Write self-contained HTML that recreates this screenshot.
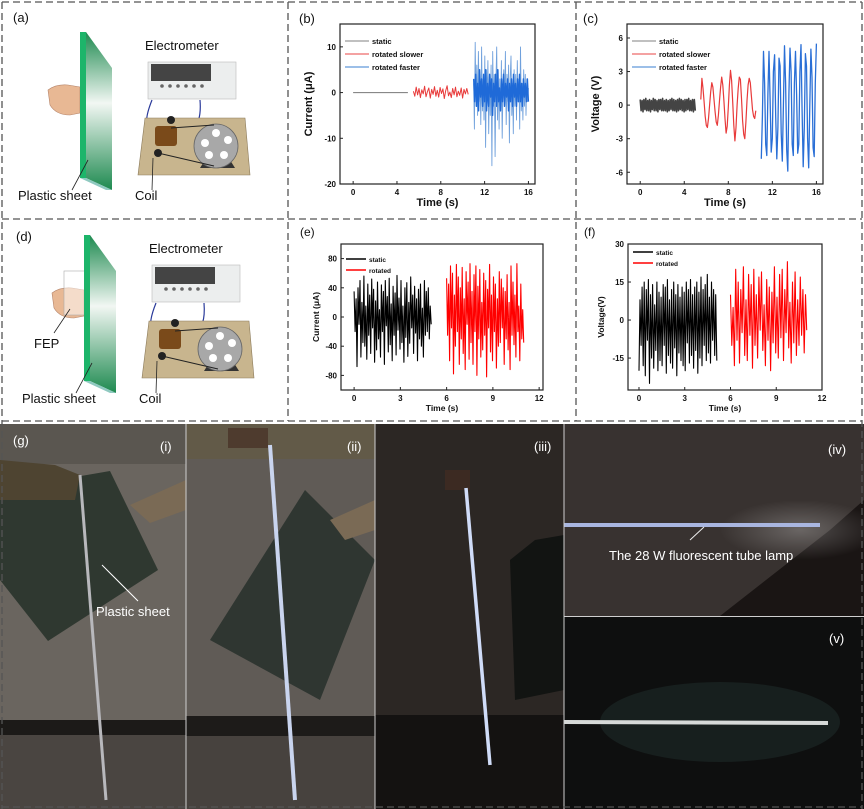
<!DOCTYPE html>
<html><head><meta charset="utf-8">
<style>
html,body{margin:0;padding:0;background:#fff;}
svg{display:block;font-family:"Liberation Sans",Arial,sans-serif;}
.tk{font-size:8px;font-weight:bold;fill:#111;}
.ax{font-size:10.5px;font-weight:bold;fill:#111;}
.lg{font-size:8.5px;font-weight:bold;fill:#111;}
.pl{font-size:13px;fill:#111;}
</style></head>
<body>
<svg id="fig" width="864" height="809" viewBox="0 0 864 809" xmlns="http://www.w3.org/2000/svg">
</svg>
<script>
// ---------- data ----------
const bStatic = [0,0,0,0,0,0];
const bSlow = [0.3,-0.8,1.2,-0.5,0.9,-1.1,0.6,-0.3,1.4,-0.9,0.2,1.0,-1.2,0.7,-0.4,1.3,-0.8,0.5,-1.0,1.1,-0.2,0.8,-1.3,0.4,1.5,-0.7,0.1,-1.1,0.9,-0.5,1.2,-0.9,0.3,-0.6,1.0,-1.2,0.7,-0.3,0.9,-0.4];
const bFast = [2,-8,11,-3,6,-5,9,-2,4,-7,10,-4,3,-6,8,-12,5,-1,7,-9,3,-5,6,-16,9,-3,4,-14,2,10,-6,5,-8,3,-4,7,-10,2,5,-3,9,-7,4,-2,6,-11,3,8,-5,2,-9,5,-3,4,-6,7,-2,3,-8,10,-4,2,-6,5,-3,4,-5,3,-2,1];
const bFastCore = [3,-2,4,-3,2,-4,5,-1,3,-3,4,-2,5,-4,2,-3,4,-1,3,-5,2,-2,4,-3,5,-2,1,-4,3,-2,4,-3,2,-1,3,-4,2,-2,3,-3,4,-1,2,-3,3,-2,4,-2,2,-3,3,-1,2,-2,3,-2];
const bRange = {static:[0,5], slow:[5.5,10.5], fast:[11,16]};
const bYTicks = [10,0,-10,-20];
const bXTicks = [0,4,8,12,16];

const cStatic = [0.5,-0.5,0.4,-0.6,0.5,-0.4,0.6,-0.5,0.4,-0.5,0.5,-0.6,0.4,-0.4,0.6,-0.5,0.5,-0.5,0.4,-0.6,0.5,-0.4,0.5,-0.5,0.6,-0.5,0.4,-0.5,0.5,-0.6,0.4,-0.5,0.5,-0.4,0.6,-0.5,0.5,-0.5,0.4,-0.6,0.5,-0.5,0.6,-0.4,0.5,-0.5,0.4,-0.6,0.5,-0.5,0.5,-0.4,0.6,-0.5,0.4,-0.5,0.5,-0.6,0.5,-0.5];
const cSlow = [0.5,2.4,1.5,0.3,-1.0,-1.8,-2.0,-1.2,0.0,1.2,2.0,1.6,0.5,-0.6,-1.5,-1.8,-0.9,0.4,1.6,2.5,1.8,0.4,-1.2,-2.5,-1.9,-0.2,1.8,3.1,2.2,0.3,-1.8,-3.2,-2.0,0.0,1.5,2.5,2.3,0.6,-1.4,-2.6,-3.0,-1.5,0.4,1.8,2.4,2.0,0.8,-0.4,-1.0,-1.2,-0.5];
const cFast = [-4.8,-1,4.8,2,-3.5,-4.5,1,4.8,0.5,-4.2,-3,3,4.5,-1,-4.8,-2,4.2,3.5,-2.5,-5,0,5.3,2,-4,-5.9,1,5.1,3,-3.5,-4.5,2,4.8,1,-4.3,-3.5,3,5.4,-0.5,-5.5,-2,4.6,3.5,-3,-5.6,0,5.0,2.5,-3.8,-4.6,2,5.5];
const cRange = {static:[0,5], slow:[5.5,10.5], fast:[11,16]};
const cYTicks = [6,3,0,-3,-6];
const cXTicks = [0,4,8,12,16];

const eStatic = [35,-20,25,-68,40,-10,50,-55,20,-35,56,-40,15,-58,45,-25,30,-50,52,-15,38,-62,22,-45,48,-30,10,-55,44,-20,35,-65,50,-12,28,-48,53,-38,18,-60,42,-25,33,-52,57,-18,26,-44,50,-35,15,-62,40,-28,47,-54,20,-36,55,-15,30,-50,42,-22,25,-60,38,-30,45,-40,12,-55,50,-25,35,-20,40,-30,15,-10];
const eRot = [53,-25,45,-60,70,-15,60,-78,30,-40,72,-20,55,-65,40,-30,68,-50,25,-72,62,-10,48,-58,73,-35,35,-65,58,-20,70,-80,42,-30,65,-55,20,-45,60,-25,50,-82,38,-15,72,-48,30,-60,55,-20,45,-70,25,-40,62,-35,52,-15,40,-65,35,-30,58,-45,20,-72,70,-25,48,-38,30,-55,73,-20,15,-60,45,-30,10,-35];
const eRange = {static:[0,5], rot:[6,11]};
const eYTicks = [80,40,0,-40,-80];
const eXTicks = [0,3,6,9,12];

const fStatic = [-20,8,-10,13,-18,15,-22,12,-8,16,-25,10,-15,14,-19,6,-12,15,-20,11,-16,9,-18,14,-10,13,-21,16,-14,8,-17,12,-19,15,-11,10,-22,14,-13,9,-16,13,-18,11,-20,15,-9,12,-17,16,-14,10,-19,13,-12,15,-21,11,-15,17,-18,12,-10,14,-16,18,-13,9,-17,15,-8,12,-14,10,-16];
const fRot = [10,-10,5,-18,20,-8,15,-17,12,-5,21,-14,8,-16,18,-6,14,-19,20,-10,10,-15,17,-4,19,-12,6,-18,16,-8,13,-20,11,-9,21,-13,9,-15,18,-7,20,-16,12,-5,23,-11,7,-17,15,-9,19,-14,8,-10,17,-6,12,-13,10,-4];
const fRange = {static:[0,5.1], rot:[6,11]};
const fYTicks = [30,15,0,-15];
const fXTicks = [0,3,6,9,12];

// ---------- helpers ----------
const NS='http://www.w3.org/2000/svg';
const svg=document.getElementById('fig');
function el(tag,attrs,parent,text){
  const e=document.createElementNS(NS,tag);
  for(const k in attrs)e.setAttribute(k,attrs[k]);
  if(text!==undefined)e.textContent=text;
  (parent||svg).appendChild(e);return e;
}
function dashed(x1,y1,x2,y2){
  const l=el('line',{x1,y1,x2,y2,stroke:'#555','stroke-width':1.3,'stroke-dasharray':'7,4'});
  
  
}
function chart(o){
  const g=el('g',{});
  
  
  const sx=v=>o.x0+(v-o.xd[0])/(o.xd[1]-o.xd[0])*(o.x1-o.x0);
  const sy=v=>o.y1-(v-o.yd[0])/(o.yd[1]-o.yd[0])*(o.y1-o.y0);
  const cp='cp_'+o.name;
  const defs=el('defs',{},g);const c=el('clipPath',{id:cp},defs);
  el('rect',{x:o.x0,y:o.y0,width:o.x1-o.x0,height:o.y1-o.y0},c);
  const sg=el('g',{'clip-path':'url(#'+cp+')'},g);
  o.series.forEach(s=>{
    const n=s.vals.length;
    const pts=s.vals.map((v,i)=>sx(s.range[0]+(s.range[1]-s.range[0])*i/(n-1)).toFixed(1)+','+sy(v).toFixed(1)).join(' ');
    const p=el('polyline',{points:pts,fill:'none',stroke:s.color,'stroke-width':s.w||0.8,'stroke-linejoin':'round'},sg);
    
    
  });
  const fr=el('rect',{x:o.x0,y:o.y0,width:o.x1-o.x0,height:o.y1-o.y0,fill:'none',stroke:'#222','stroke-width':1.2},g);
  
  
  o.yt.forEach(v=>{
    const y=sy(v);
    el('line',{x1:o.x0,y1:y,x2:o.x0+3,y2:y,stroke:'#222','stroke-width':1},g);
    const t=el('text',{x:o.x0-4,y:y+3,'text-anchor':'end',class:'tk'},g,String(v));
    
    
  });
  o.xt.forEach(v=>{
    const x=sx(v);
    el('line',{x1:x,y1:o.y1,x2:x,y2:o.y1-3,stroke:'#222','stroke-width':1},g);
    const t=el('text',{x:x,y:o.y1+11,'text-anchor':'middle',class:'tk'},g,String(v));
    
    
  });
  const xl=el('text',{x:(o.x0+o.x1)/2,y:o.y1+o.xlo,'text-anchor':'middle',class:'ax',style:'font-size:'+o.fs+'px'},g,'Time (s)');
  
  
  const yx=o.x0-o.ylo, yy=(o.y0+o.y1)/2;
  const yl=el('text',{x:yx,y:yy,'text-anchor':'middle',class:'ax',style:'font-size:'+o.fs+'px',transform:'rotate(-90 '+yx+' '+yy+')'},g,o.ylabel);
  
  
  o.legend.forEach((L,i)=>{
    const y=o.y0+o.ly+i*o.lgap;
    const lg=el('g',{},g);
    
    
    el('line',{x1:o.x0+5,y1:y,x2:o.x0+5+o.lw,y2:y,stroke:L[1],'stroke-width':L[2]||1},lg);
    el('text',{x:o.x0+8+o.lw,y:y+3,class:'lg',style:'font-size:'+o.lfs+'px'},lg,L[0]);
  });
}
function label(x,y,t,size,name,color,weight){
  const e=el('text',{x,y,style:'font-size:'+size+'px;fill:'+(color||'#111')+';font-weight:'+(weight||'normal')},svg,t);
  
  
  return e;
}

// ---------- photos ----------
(function(){
  const defs=el('defs',{});
  const gr=el('radialGradient',{id:'glow',cx:'0.5',cy:'0.5',r:'0.5'},defs);
  el('stop',{offset:'0','stop-color':'#ffffff','stop-opacity':'0.25'},gr);
  el('stop',{offset:'1','stop-color':'#ffffff','stop-opacity':'0'},gr);
  const cps=[[0,424,186,385],[186,424,189,385],[375,424,189,385],[564,424,300,192],[564,617,300,192]];
  cps.forEach((c,i)=>{const cp=el('clipPath',{id:'ph'+i},defs);el('rect',{x:c[0],y:c[1],width:c[2],height:c[3]},cp);});
  const bg=['#6a655f','#605b56','#2c2724','#383230','#0e0f0f'];
  cps.forEach((c,i)=>{
    const g=el('g',{'clip-path':'url(#ph'+i+')'});
    
    
    el('rect',{x:c[0],y:c[1],width:c[2],height:c[3],fill:bg[i]},g);
    if(i==0){
      el('rect',{x:0,y:424,width:186,height:40,fill:'#5a5650'},g);
      el('rect',{x:0,y:720,width:186,height:15,fill:'#1c1a18'},g);
      el('rect',{x:0,y:735,width:186,height:74,fill:'#4a4541'},g);
      el('polygon',{points:'110,471 158,570 48,641 0,580 0,490',fill:'#2f3830'},g);
      el('polygon',{points:'0,460 55,465 80,475 75,500 0,500',fill:'#4e4431'},g);
      el('polygon',{points:'130,505 186,480 186,510 150,523',fill:'#7a6a55'},g);
      el('line',{x1:80,y1:475,x2:106,y2:800,stroke:'#b8b8bc','stroke-width':3},g);
    }
    if(i==1){
      el('rect',{x:186,y:424,width:189,height:35,fill:'#625a48'},g);
      el('rect',{x:186,y:716,width:189,height:20,fill:'#1d1b19'},g);
      el('rect',{x:186,y:736,width:189,height:73,fill:'#47423e'},g);
      el('polygon',{points:'305,490 375,560 320,700 210,640',fill:'#2f3631'},g);
      el('polygon',{points:'330,520 375,500 375,530 345,540',fill:'#7a6a55'},g);
      el('rect',{x:228,y:428,width:40,height:20,fill:'#4e3b2e'},g);
      el('line',{x1:270,y1:445,x2:295,y2:800,stroke:'#c9d4ee','stroke-width':4},g);
    }
    if(i==2){
      el('rect',{x:375,y:715,width:189,height:94,fill:'#141211'},g);
      el('polygon',{points:'535,540 564,535 564,690 515,700 510,560',fill:'#121412'},g);
      el('rect',{x:445,y:470,width:25,height:20,fill:'#3c2a22'},g);
      el('line',{x1:466,y1:488,x2:490,y2:765,stroke:'#d0dcf8','stroke-width':3.5},g);
    }
    if(i==3){
      el('polygon',{points:'720,616 830,530 864,500 864,616',fill:'#1a1514'},g);
      el('ellipse',{cx:800,cy:530,rx:80,ry:30,fill:'url(#glow)'},g);
      el('line',{x1:564,y1:525,x2:820,y2:525,stroke:'#a9b6e0','stroke-width':4},g);
      el('line',{x1:704,y1:527,x2:690,y2:540,stroke:'#eee','stroke-width':1},g);
    }
    if(i==4){
      el('ellipse',{cx:720,cy:722,rx:120,ry:40,fill:'#1e2a28',opacity:'0.6'},g);
      el('line',{x1:564,y1:722,x2:828,y2:723,stroke:'#d6d9d8','stroke-width':4},g);
    }
  });
  [[186,424,186,809],[375,424,375,809],[564,424,564,809]].forEach(l=>{const e=el('line',{x1:l[0],y1:l[1],x2:l[2],y2:l[3],stroke:'#cfcfcf','stroke-width':1});});
  const hl=el('line',{x1:564,y1:616.5,x2:864,y2:616.5,stroke:'#cfcfcf','stroke-width':1});
  
  el('line',{x1:102,y1:565,x2:138,y2:601,stroke:'#fff','stroke-width':1});
  label(13,445,'(g)',13,'panel-label-g','#fff');
  label(160,451,'(i)',13,'photo-label-i','#fff');
  label(347,451,'(ii)',13,'photo-label-ii','#fff');
  label(534,451,'(iii)',13,'photo-label-iii','#fff');
  label(828,454,'(iv)',13,'photo-label-iv','#fff');
  label(829,643,'(v)',13,'photo-label-v','#fff');
  label(96,616,'Plastic sheet',13,'annotation-plastic-sheet','#fff');
  label(609,560,'The 28 W fluorescent tube lamp',13,'annotation-lamp','#fff');
})();

// ---------- schematics ----------
function schematic(dx,dy,fep,name){
  const g=el('g',{transform:'translate('+dx+','+dy+')'});
  
  
  const defs=el('defs',{},g);
  const lg=el('linearGradient',{id:'sg'+name,x1:'0',y1:'0',x2:'0',y2:'1'},defs);
  el('stop',{offset:'0','stop-color':'#1e8a50'},lg);
  el('stop',{offset:'0.45','stop-color':'#f2f7f3'},lg);
  el('stop',{offset:'1','stop-color':'#1e8a50'},lg);
  el('path',{d:'M48,90 q8,-6 20,-5 l12,2 v26 l-10,2 q-14,0 -20,-10 z',fill:'#e8b894',stroke:'#b5846a','stroke-width':0.6},g);
  if(fep){el('rect',{x:60,y:68,width:22,height:44,fill:'rgba(255,255,255,0.5)',stroke:'#aaa','stroke-width':0.6},g);
    el('line',{x1:50,y1:130,x2:66,y2:106,stroke:'#222','stroke-width':0.8},g);}
  el('polygon',{points:'86,32 112,68 112,190 86,178',fill:'url(#sg'+name+')'},g);
  el('polygon',{points:'80,32 86,32 86,178 80,178',fill:'#1db56a'},g);
  el('polygon',{points:'80,178 86,178 112,190 106,190',fill:'#8fc9c0'},g);
  el('line',{x1:88,y1:160,x2:72,y2:190,stroke:'#222','stroke-width':0.8},g);
  el('rect',{x:148,y:62,width:88,height:37,fill:'#eceeee',stroke:'#bbb','stroke-width':0.6},g);
  el('rect',{x:151,y:64,width:60,height:17,fill:'#444'},g);
  for(let k=0;k<6;k++)el('circle',{cx:162+k*8,cy:86,r:1.8,fill:'#666'},g);
  el('path',{d:'M152,100 q-8,20 -4,26 q6,4 14,2',fill:'none',stroke:'#2a3a9a','stroke-width':1.2},g);
  el('path',{d:'M200,100 q2,25 -10,30 q-8,2 -16,-2',fill:'none',stroke:'#2a3a9a','stroke-width':1.2},g);
  el('polygon',{points:'145,118 245,118 250,175 138,175',fill:'#c8b58e',stroke:'#8b7a5a','stroke-width':0.6},g);
  el('rect',{x:155,y:126,width:22,height:20,fill:'#7a4a1a',rx:3},g);
  el('circle',{cx:171,cy:120,r:4,fill:'#222'},g);
  el('circle',{cx:158,cy:153,r:4,fill:'#222'},g);
  el('polygon',{points:'200,168 235,168 230,160 205,160',fill:'#333'},g);
  el('circle',{cx:216,cy:146,r:22,fill:'#a8a8a8',stroke:'#666','stroke-width':0.8},g);
  [[216,133],[205,143],[209,155],[224,155],[228,140]].forEach(p=>el('circle',{cx:p[0],cy:p[1],r:4,fill:'#fff'},g));
  el('line',{x1:158,y1:153,x2:214,y2:166,stroke:'#222','stroke-width':1},g);
  el('line',{x1:171,y1:128,x2:214,y2:125,stroke:'#222','stroke-width':1},g);
  el('line',{x1:153,y1:158,x2:152,y2:190,stroke:'#222','stroke-width':0.8},g);
  const t1=el('text',{x:145,y:50,class:'pl'},g,'Electrometer');
  
  const t2=el('text',{x:18,y:200,class:'pl'},g,'Plastic sheet');
  
  const t3=el('text',{x:135,y:200,class:'pl'},g,'Coil');
  
  if(fep){const t4=el('text',{x:30,y:145,class:'pl'},g,'FEP');
    }
}
schematic(0,0,false,'schematic-a');
schematic(4,203,true,'schematic-d');

// ---------- charts ----------
chart({name:'chart-b',x0:340,x1:535,y0:24,y1:184,xd:[-1.2,16.6],yd:[-20,15],yt:bYTicks,xt:bXTicks,
  ylabel:'Current (μA)',xlo:22,ylo:28,fs:11,lfs:7.5,lw:24,ly:17,lgap:13,
  legend:[['static','#808080'],['rotated slower','#e84545'],['rotated faster','#3a7fd0']],
  series:[{name:'series-static',vals:bStatic,range:bRange.static,color:'#777',w:1},
          {name:'series-rotated-slower',vals:bSlow,range:bRange.slow,color:'#e83a3a',w:1},
          {name:'series-rotated-faster',vals:bFast,range:bRange.fast,color:'#6fa0dc',w:0.9},
          {name:'series-rotated-faster-core',vals:bFastCore,range:bRange.fast,color:'#1f6ad8',w:1.4}]});
chart({name:'chart-c',x0:627,x1:823,y0:24,y1:184,xd:[-1.2,16.6],yd:[-7.05,7.25],yt:cYTicks,xt:cXTicks,
  ylabel:'Voltage (V)',xlo:22,ylo:28,fs:11,lfs:7.5,lw:24,ly:17,lgap:13,
  legend:[['static','#808080'],['rotated slower','#e84545'],['rotated faster','#3a7fd0']],
  series:[{name:'series-static',vals:cStatic,range:cRange.static,color:'#444',w:1.6},
          {name:'series-rotated-slower',vals:cSlow,range:cRange.slow,color:'#e83a3a',w:1.2},
          {name:'series-rotated-faster',vals:cFast,range:cRange.fast,color:'#2a6fd6',w:1.3}]});
chart({name:'chart-e',x0:341,x1:543,y0:244,y1:390,xd:[-0.85,12.25],yd:[-100,100],yt:eYTicks,xt:eXTicks,
  ylabel:'Current (μA)',xlo:21,ylo:22,fs:8.5,lfs:6.5,lw:20,ly:15,lgap:11,
  legend:[['static','#000',1.5],['rotated','#f00',1.5]],
  series:[{name:'series-static',vals:eStatic,range:eRange.static,color:'#000',w:1.1},
          {name:'series-rotated',vals:eRot,range:eRange.rot,color:'#f00',w:1.1}]});
chart({name:'chart-f',x0:628,x1:822,y0:244,y1:390,xd:[-0.72,12],yd:[-27.6,30],yt:fYTicks,xt:fXTicks,
  ylabel:'Voltage(V)',xlo:21,ylo:24,fs:8.5,lfs:6.5,lw:20,ly:8,lgap:11,
  legend:[['static','#000',1.5],['rotated','#f00',1.5]],
  series:[{name:'series-static',vals:fStatic,range:fRange.static,color:'#000',w:1.1},
          {name:'series-rotated',vals:fRot,range:fRange.rot,color:'#f00',w:1.1}]});

label(13,22,'(a)',13,'panel-label-a');
label(299,23,'(b)',13,'panel-label-b');
label(583,23,'(c)',13,'panel-label-c');
label(16,241,'(d)',13,'panel-label-d');
label(300,236,'(e)',12,'panel-label-e');
label(584,236,'(f)',12,'panel-label-f');

// ---------- dividers ----------
dashed(2,2,862,2);
dashed(2,219,862,219);
dashed(2,421,862,421);
dashed(2,807,862,807);
dashed(2,2,2,809);
dashed(862,2,862,809);
dashed(288,2,288,421);
dashed(576,2,576,421);
</script>
</body></html>
